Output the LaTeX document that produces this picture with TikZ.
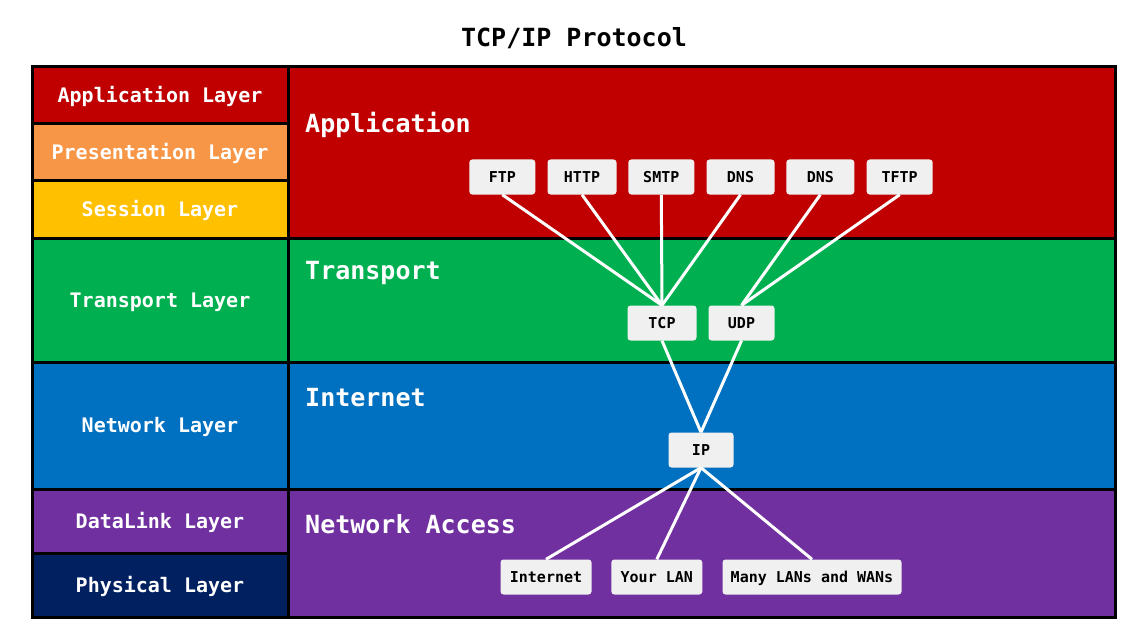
\documentclass[tikz,border=0pt]{standalone}
\usepackage{fontspec}
\setmainfont{DejaVu Sans Mono}
\definecolor{appred}{RGB}{192,0,0}
\definecolor{presorange}{RGB}{247,150,70}
\definecolor{sessyellow}{RGB}{255,192,0}
\definecolor{transgreen}{RGB}{0,176,80}
\definecolor{netblue}{RGB}{0,112,192}
\definecolor{linkpurple}{RGB}{112,48,160}
\definecolor{physnavy}{RGB}{0,32,96}
\definecolor{protogray}{RGB}{240,240,240}

\begin{document}
\begin{tikzpicture}
        [x=1pt, y=-1pt, every node/.style={inner sep=0},
         cell/.style={draw=black, line width=3pt, minimum width=256pt, text=white, text height=14.6pt, text depth=0pt, font=\bfseries\fontsize{20}{24}\selectfont},
         tcpcell/.style={draw=black, line width=3pt, minimum width=827pt},
         layer/.style={anchor=base west, text=white, font=\bfseries\fontsize{25}{30}\selectfont},
         proto/.style={fill=protogray, rounded corners=3pt, minimum height=35pt, text=black, text height=11pt, text depth=0pt, font=\bfseries\fontsize{15}{18}\selectfont},
         link/.style={draw=white, line width=3pt}]

        \useasboundingbox (0,0) rectangle (1147,639);

        \node[font=\bfseries\fontsize{25}{30}\selectfont, text height=18pt, text depth=0pt] (title) at (574,38) {TCP/IP Protocol};

        \node[cell, fill=appred, minimum height=57pt] (osiapp) at (160,95.5) {Application Layer};
        \node[cell, fill=presorange, minimum height=56pt] (osipres) at (160,152) {Presentation Layer};
        \node[cell, fill=sessyellow, minimum height=58pt] (osisess) at (160,209) {Session Layer};
        \node[cell, fill=transgreen, minimum height=124pt] (ositrans) at (160,300) {Transport Layer};
        \node[cell, fill=netblue, minimum height=127pt] (osinet) at (160,425.5) {Network Layer};
        \node[cell, fill=linkpurple, minimum height=64pt] (osidata) at (160,521) {DataLink Layer};
        \node[cell, fill=physnavy, minimum height=64pt] (osiphys) at (160,585) {Physical Layer};

        \node[tcpcell, fill=appred, minimum height=171pt] (tcpapp) at (701.5,152.5) {};
        \node[tcpcell, fill=transgreen, minimum height=124pt] (tcptrans) at (701.5,300) {};
        \node[tcpcell, fill=netblue, minimum height=127pt] (tcpnet) at (701.5,425.5) {};
        \node[tcpcell, fill=linkpurple, minimum height=128pt] (tcpacc) at (701.5,553) {};

        \node[layer] (lapp) at (305,133) {Application};
        \node[layer] (ltrans) at (305,279) {Transport};
        \node[layer] (lnet) at (305,406) {Internet};
        \node[layer] (lacc) at (305,533) {Network Access};

        \node[proto, minimum width=66pt] (ftp) at (502.3,177) {FTP};
        \node[proto, minimum width=69pt] (http) at (582,177) {HTTP};
        \node[proto, minimum width=66pt] (smtp) at (661.3,177) {SMTP};
        \node[proto, minimum width=68pt] (dnsa) at (740.5,177) {DNS};
        \node[proto, minimum width=68pt] (dnsb) at (820.3,177) {DNS};
        \node[proto, minimum width=66pt] (tftp) at (899.7,177) {TFTP};
        \node[proto, minimum width=69pt] (tcp) at (662,323) {TCP};
        \node[proto, minimum width=66pt] (udp) at (741.5,323) {UDP};
        \node[proto, minimum width=65pt] (ip) at (701,450) {IP};
        \node[proto, minimum width=91pt] (inet) at (546,577) {Internet};
        \node[proto, minimum width=91pt] (lan) at (656.8,577) {Your LAN};
        \node[proto, minimum width=179pt] (wan) at (812,577) {Many LANs and WANs};

        \draw[link] (ftp.south) -- (tcp.north);
        \draw[link] (http.south) -- (tcp.north);
        \draw[link] (smtp.south) -- (tcp.north);
        \draw[link] (dnsa.south) -- (tcp.north);
        \draw[link] (dnsb.south) -- (udp.north);
        \draw[link] (tftp.south) -- (udp.north);
        \draw[link] (tcp.south) -- (ip.north);
        \draw[link] (udp.south) -- (ip.north);
        \draw[link] (ip.south) -- (inet.north);
        \draw[link] (ip.south) -- (lan.north);
        \draw[link] (ip.south) -- (wan.north);

      \end{tikzpicture}
\end{document}
